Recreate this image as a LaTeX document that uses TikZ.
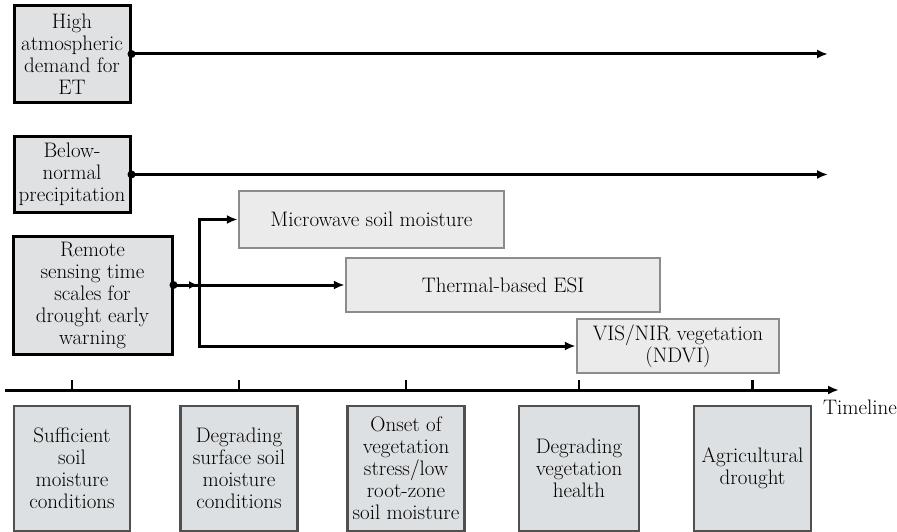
\documentclass[tikz,border=0pt]{standalone}
\usepackage{fontspec}
\usetikzlibrary{arrows.meta}
\definecolor{causefill}{HTML}{DFE1E3}
\definecolor{sensefill}{HTML}{EBEBEB}
\definecolor{senseedge}{HTML}{8C8C8C}
\definecolor{stagefill}{HTML}{DDE0E2}
\definecolor{stageedge}{HTML}{505050}
\tikzset{
  txt/.style={font=\rmfamily\fontsize{21}{22}\selectfont, align=center, inner sep=0pt},
  causebox/.style={txt, draw=black, line width=3pt, fill=causefill},
  sensebox/.style={txt, draw=senseedge, line width=2.5pt, fill=sensefill},
  stagebox/.style={txt, draw=stageedge, line width=2.5pt, fill=stagefill,
    minimum height=125pt},
  link/.style={line width=3pt},
  arr/.style={link, -{Latex[length=11pt,width=9pt]}},
  smallarr/.style={link, -{Latex[length=9pt,width=8pt]}},
  jdot/.style={fill=black}
}
\begin{document}
\begin{tikzpicture}[x=1pt,y=-1pt]
\useasboundingbox (0,0) rectangle (897,532);

% drivers of drought
\node[causebox, minimum width=116pt, minimum height=97pt] (atm) at (72,54)
  {High\\atmospheric\\demand for\\ET};
\node[causebox, minimum width=116pt, minimum height=75pt] (prec) at (72,174.5)
  {Below-\\normal\\precipitation};
\node[causebox, minimum width=159pt, minimum height=118pt] (rs) at (92.5,295)
  {Remote\\sensing time\\scales for\\drought early\\warning};

% remote sensing products
\node[sensebox, minimum width=265pt, minimum height=57pt] (mw) at (371.5,219.5)
  {Microwave soil moisture};
\node[sensebox, minimum width=314pt, minimum height=54pt] (esi) at (503,285)
  {Thermal-based ESI};
\node[sensebox, minimum width=202pt, minimum height=54pt] (vis) at (678,346)
  {VIS/NIR vegetation\\(NDVI)};

% long driver arrows
\coordinate (atmend) at (828,54);
\coordinate (precend) at (828,174.5);
\draw[arr] (atm.east) -- (atmend);
\fill[jdot] (atm.east) circle (4pt);
\draw[arr] (prec.east) -- (precend);
\fill[jdot] (prec.east) circle (4pt);

% branching from the remote sensing box
\coordinate (rsout) at ([yshift=10pt]rs.east);
\coordinate (junc) at (199,285);
\draw[link] (rsout) -- (junc);
\draw[smallarr] (rsout) -- ([xshift=-1pt]junc);
\draw[arr] (junc) |- (mw.west);
\draw[arr] (junc) -- (esi.west);
\draw[arr] (junc) |- (vis.west);
\fill[jdot] (rsout) circle (4pt);

% timeline stages
\node[stagebox, minimum width=116pt] (s1) at (72,468.5)
  {Sufficient\\soil\\moisture\\conditions};
\node[stagebox, minimum width=117pt] (s2) at (239,468.5)
  {Degrading\\surface soil\\moisture\\conditions};
\node[stagebox, minimum width=117pt] (s3) at (406,468.5)
  {Onset of\\vegetation\\stress/low\\root-zone\\soil moisture};
\node[stagebox, minimum width=120pt] (s4) at (579,468.5)
  {Degrading\\vegetation\\health};
\node[stagebox, minimum width=117pt] (s5) at (752.5,468.5)
  {Agricultural\\drought};

% timeline axis
\coordinate (tl0) at (5,390);
\coordinate (tl1) at (839,390);
\draw[arr] (tl0) -- (tl1);
\node[txt, anchor=north east] (tllabel) at (897,400) {Timeline};
\foreach \s in {s1,s2,s3,s4,s5}
  \draw[line width=2.5pt] (\s.north |- tl0) -- ++(0,-10);
\end{tikzpicture}
\end{document}
